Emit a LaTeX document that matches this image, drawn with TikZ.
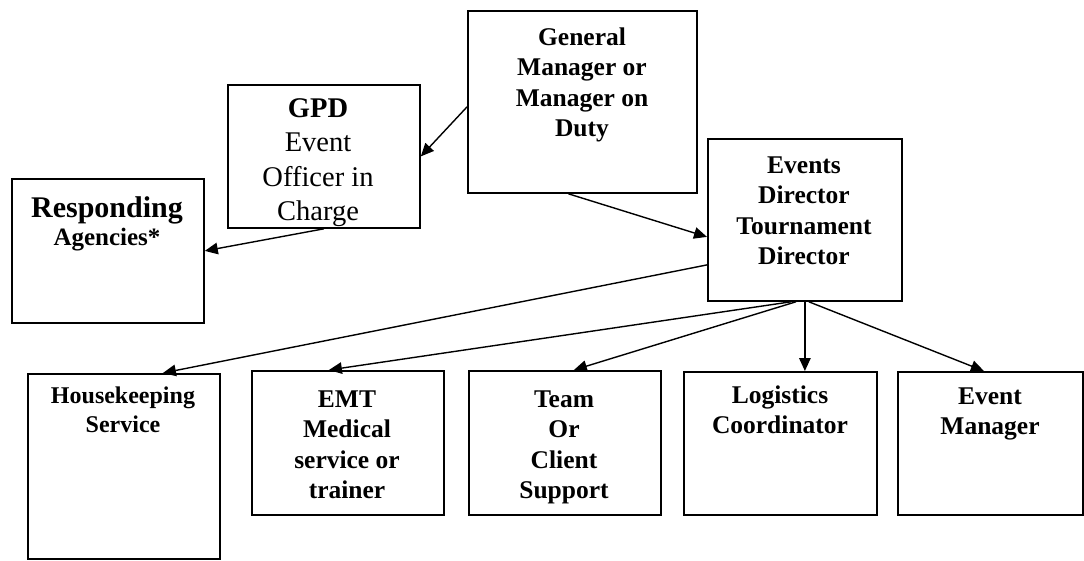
\documentclass[tikz,border=0pt]{standalone}
\usepackage{fontspec}
\setmainfont{Liberation Serif}
\usetikzlibrary{arrows.meta}
\newcommand{\tp}{\rule{0pt}{22pt}}
\tikzset{
  box/.style={draw, line width=1.8pt, inner sep=0pt, anchor=north west},
  lbl/.style={font=\bfseries\fontsize{25.5}{30.5}\selectfont, align=center, inner sep=0pt, anchor=north},
  arr/.style={line width=1.4pt, -{Triangle[length=13pt,width=11.5pt]}},
}
\begin{document}
\begin{tikzpicture}[x=1pt,y=-1pt]
\useasboundingbox (0,0) rectangle (1084,560);
% boxes
\node[box, minimum width=229pt, minimum height=182pt] (gm)   at (467,10)  {};
\node[box, minimum width=192pt, minimum height=143pt] (gpd)  at (227,84)  {};
\node[box, minimum width=192pt, minimum height=144pt] (resp) at (11,178)  {};
\node[box, minimum width=194pt, minimum height=162pt] (ed)   at (707,138) {};
\node[box, minimum width=192pt, minimum height=185pt] (hk)   at (27,373)  {};
\node[box, minimum width=192pt, minimum height=144pt] (emt)  at (251,370) {};
\node[box, minimum width=192pt, minimum height=144pt] (team) at (468,370) {};
\node[box, minimum width=193pt, minimum height=143pt] (log)  at (683,371) {};
\node[box, minimum width=185pt, minimum height=143pt] (em)   at (897,371) {};
% texts
\node[lbl] (tgm) at (582,23) {\tp General\\Manager or\\Manager on\\Duty};
\node[lbl] (ted) at (804,151) {\tp Events\\Director\\Tournament\\Director};
\node[lbl, font=\fontsize{28.5}{34.5}\selectfont] (tgpd) at (318,95) {\tp\textbf{GPD}\\Event\\Officer in\\Charge};
\node[lbl, font=\bfseries\fontsize{25}{28}\selectfont] (tresp) at (107,195) {\tp{\fontsize{30}{28}\selectfont Responding}\\Agencies*};
\node[lbl, font=\bfseries\fontsize{24}{29}\selectfont] (thk) at (123,381) {\tp Housekeeping\\Service};
\node[lbl] (temt) at (347,385) {\tp EMT\\Medical\\service or\\trainer};
\node[lbl] (tteam) at (564,385) {\tp Team\\Or\\Client\\Support};
\node[lbl] (tlog) at (780,381) {\tp Logistics\\Coordinator};
\node[lbl] (tem) at (990,382) {\tp Event\\Manager};
% connectors
\draw[arr] ([yshift=-5pt]gm.west) -- (gpd.east);
\draw[arr] (gpd.south) -- (resp.east);
\draw[arr] ([xshift=-14pt]gm.south) -- ([yshift=-17pt]ed.west);
\draw[arr] ([yshift=-45pt]ed.west) -- ([xshift=39pt]hk.north);
\draw[arr] ([xshift=-14pt]ed.south) -- ([xshift=-19pt]emt.north);
\draw[arr] ([xshift=-9pt]ed.south) -- ([xshift=9pt]team.north);
\draw[arr] (ed.south) -- (ed.south |- log.north);
\draw[arr] ([xshift=4pt]ed.south) -- ([xshift=-6.5pt]em.north);
\end{tikzpicture}
\end{document}
